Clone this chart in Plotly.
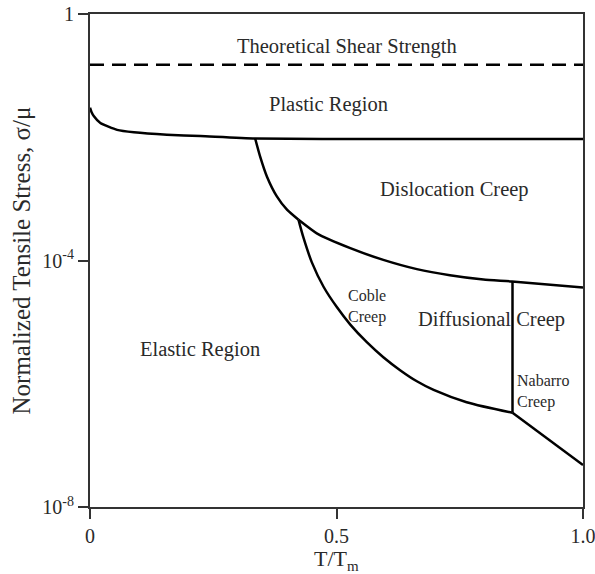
import plotly.graph_objects as go

# Homologous temperature T/Tm and log10(normalized stress) along each boundary
shear_T = [0.0, 1.0]
shear_log = [-0.824, -0.824]

yield_T = [0.0, 0.003, 0.008, 0.021, 0.055, 0.089, 0.156, 0.224, 0.335, 0.6, 1.0]
yield_log = [-1.52, -1.59, -1.66, -1.77, -1.88, -1.92, -1.96, -1.98, -2.02, -2.03, -2.03]

disl_T = [0.335, 0.345, 0.359, 0.379, 0.400, 0.423]
disl_log = [-2.02, -2.31, -2.64, -2.96, -3.18, -3.34]

diff_top_T = [0.423, 0.460, 0.528, 0.595, 0.663, 0.730, 0.798, 0.856, 1.0]
diff_top_log = [-3.34, -3.56, -3.80, -3.99, -4.14, -4.24, -4.31, -4.34, -4.44]

coble_T = [0.423, 0.433, 0.450, 0.474, 0.501, 0.528, 0.562, 0.595, 0.629, 0.663, 0.697, 0.764, 0.857]
coble_log = [-3.34, -3.63, -4.03, -4.43, -4.76, -5.04, -5.33, -5.57, -5.78, -5.96, -6.10, -6.30, -6.47]

split_T = [0.857, 0.857]
split_log = [-4.34, -6.47]

nabarro_T = [0.857, 1.0]
nabarro_log = [-6.47, -7.32]

region_names = ["Theoretical Shear Strength", "Plastic Region", "Dislocation Creep",
                "Coble<br>Creep", "Diffusional Creep", "Nabarro<br>Creep", "Elastic Region"]
region_T = [0.522, 0.483, 0.739, 0.562, 0.815, 0.919, 0.224]
region_log = [-0.53, -1.47, -2.84, -4.75, -4.95, -6.13, -5.45]
region_size = [20.5, 20.5, 20.5, 16, 20.5, 16, 20.5]

y_tickvals = [1e-8, 1e-4, 1]
y_ticktext = ["10<sup>-8</sup>", "10<sup>-4</sup>", "1"]
x_tickvals = [0, 0.5, 1.0]
x_ticktext = ["0", "0.5", "1.0"]

SERIF = "Liberation Serif, Times New Roman, serif"
INK = "#2a2a2a"

fig = go.Figure()

def boundary(T, logs, dash="solid", smoothing=0.5):
    fig.add_trace(go.Scatter(
        x=T, y=[10 ** v for v in logs], mode="lines",
        line=dict(color="black", width=2.5, dash=dash, shape="spline", smoothing=smoothing),
        hoverinfo="skip", showlegend=False))

boundary(shear_T, shear_log, dash="14px,8px")
boundary(yield_T, yield_log)
boundary(disl_T, disl_log)
boundary(diff_top_T, diff_top_log)
boundary(coble_T, coble_log, smoothing=0.8)
boundary(split_T, split_log)
boundary(nabarro_T, nabarro_log)

for name, t, lv, sz in zip(region_names, region_T, region_log, region_size):
    fig.add_annotation(x=t, y=lv, text=name, showarrow=False,
                       font=dict(family=SERIF, size=sz, color=INK),
                       align="left" if "<br>" in name else "center")

# Axis titles
fig.add_annotation(xref="paper", yref="paper", x=0.5, y=0, yshift=-53,
                   xanchor="center", yanchor="middle",
                   text="T/T<sub><span style='font-size:15px'>m</span></sub>", showarrow=False,
                   font=dict(family=SERIF, size=22, color=INK))
fig.add_annotation(xref="paper", yref="paper", x=0, y=0.5, xshift=-69,
                   xanchor="center", yanchor="middle",
                   text="Normalized Tensile Stress, σ/μ", textangle=-90, showarrow=False,
                   font=dict(family=SERIF, size=25, color=INK))

axis_style = dict(
    showline=True, linecolor="#333", linewidth=2, mirror=True,
    ticks="outside", ticklen=10, tickwidth=2, tickcolor="#333",
    showgrid=False, zeroline=False, automargin=False, ticklabeloverflow="allow",
    tickfont=dict(family=SERIF, size=20, color=INK),
)
fig.update_xaxes(range=[0, 1], tickvals=x_tickvals, ticktext=x_ticktext, **axis_style)
fig.update_yaxes(type="log", range=[-8, 0], tickvals=y_tickvals, ticktext=y_ticktext, **axis_style)

fig.update_layout(
    width=595, height=574,
    margin=dict(l=90, r=12, t=14, b=67),
    paper_bgcolor="white", plot_bgcolor="white",
    showlegend=False,
)

fig.write_html("out.html")
